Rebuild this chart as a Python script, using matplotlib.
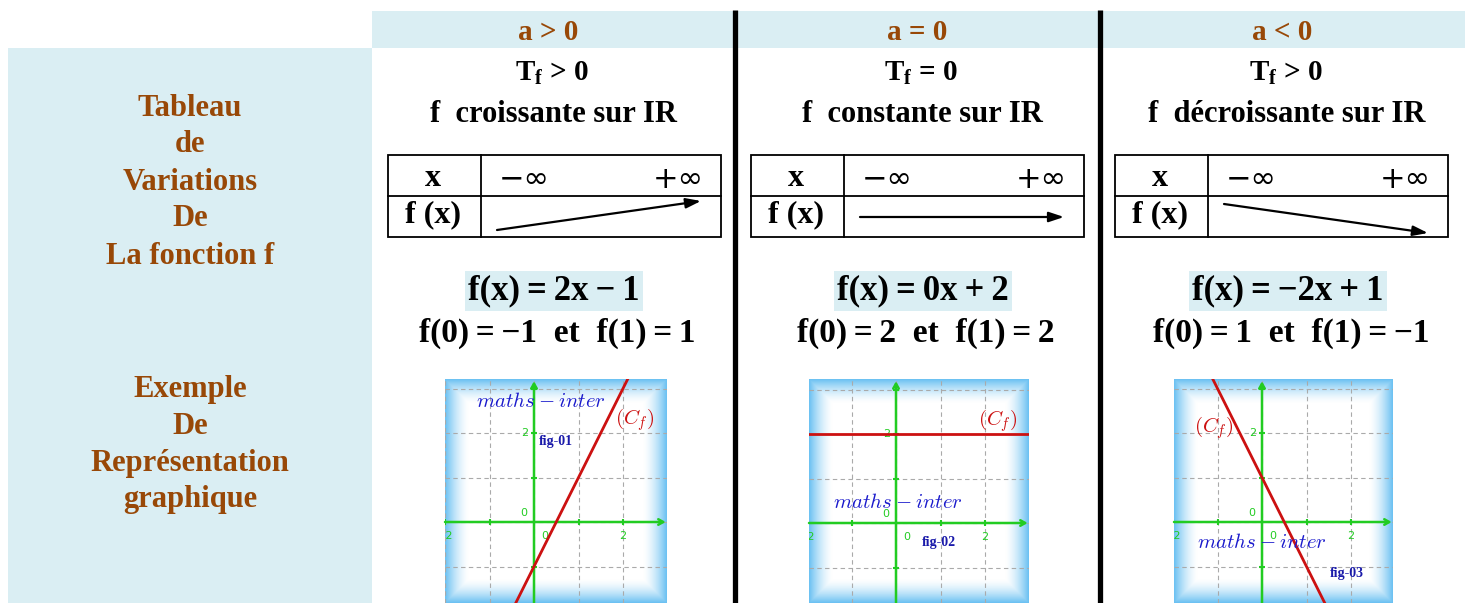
import numpy as np
import matplotlib
matplotlib.use("Agg")
import matplotlib.pyplot as plt
from matplotlib.patches import Rectangle

plt.rcParams['mathtext.fontset'] = 'custom'
plt.rcParams['mathtext.rm'] = 'Liberation Serif:bold'
plt.rcParams['mathtext.bf'] = 'Liberation Serif:bold'
plt.rcParams['mathtext.it'] = 'Liberation Serif:bold'

# ---------------- data ----------------
cases = ["a > 0", "a = 0", "a < 0"]
tf_signs = ["> 0", "= 0", "> 0"]
senses = ["croissante", "constante", "décroissante"]
slopes = [2, 0, -2]
intercepts = [-1, 2, 1]
f0_values = [-1, 2, 1]
f1_values = [1, 2, -1]
fig_labels = ["fig-01", "fig-02", "fig-03"]
row_labels_top = ["Tableau", "de", "Variations", "De", "La fonction f"]
row_labels_bottom = ["Exemple", "De", "Représentation", "graphique"]

# ---------------- style ----------------
W, H = 1468, 603
BLUE_BG = "#DAEEF3"
BROWN = "#984807"
SERIF = "Liberation Serif"
GREEN = "#22cc22"
RED = "#cc1111"
TXTBLUE = "#1a1acc"
TS = "\u2009"  # thin space

fig = plt.figure(figsize=(W / 100, H / 100), dpi=100)
ax = fig.add_axes([0, 0, 1, 1])
ax.set_xlim(0, W)
ax.set_ylim(H, 0)
ax.axis("off")

def num(v):
    return str(v).replace("-", "−")

# backgrounds
ax.add_patch(Rectangle((372, 11), 1465 - 372, 37, facecolor=BLUE_BG, edgecolor="none"))
ax.add_patch(Rectangle((8, 48), 364, H - 48, facecolor=BLUE_BG, edgecolor="none"))

# separators
for xs in (735, 1100):
    ax.plot([xs, xs], [10, H], color="black", lw=3.8, solid_capstyle="butt")

# left labels
for i, t in enumerate(row_labels_top):
    ax.text(190, 108 + i * 37, t, ha="center", va="center", fontsize=22,
            family=SERIF, weight="bold", color=BROWN)
for i, t in enumerate(row_labels_bottom):
    ax.text(190, 389 + i * 37, t, ha="center", va="center", fontsize=22,
            family=SERIF, weight="bold", color=BROWN)

header_x = [548, 917, 1282]
table_left = [388, 751, 1115]
graph_px = [(445, 667, 534, 522), (809, 1029, 896, 523), (1174, 1393, 1262, 522)]
unit = 44.5
label_pos = [
    dict(maths=(0.15, 2.72), cf=(2.27, 2.29), fig=(0.5, 1.8)),
    dict(maths=(0.04, 0.47), cf=(2.29, 2.31), fig=(0.96, -0.44)),
    dict(maths=(0.0, -0.45), cf=(-1.08, 2.13), fig=(1.91, -1.15)),
]

for i in range(3):
    cx = header_x[i]
    ax.text(cx, 32, cases[i], ha="center", va="center", fontsize=21,
            family=SERIF, weight="bold", color=BROWN)
    ax.text(cx + 4, 73, r"$\mathbf{T}_{\mathbf{f}}$ " + tf_signs[i], ha="center", va="center",
            fontsize=21, family=SERIF, weight="bold", color="black")
    ax.text(cx + 5, 114, "f  " + senses[i] + " sur IR", ha="center", va="center",
            fontsize=22, family=SERIF, weight="bold", color="black")

    # variation table
    L = table_left[i]
    ax.add_patch(Rectangle((L, 155), 333, 82, facecolor="none", edgecolor="black", lw=1.3))
    ax.plot([L + 93, L + 93], [155, 237], color="black", lw=1.3)
    ax.plot([L, L + 333], [196, 196], color="black", lw=1.3)
    ax.text(L + 45, 179, "x", ha="center", va="center", fontsize=23, family=SERIF,
            weight="bold")
    ax.text(L + 45, 215, "f (x)", ha="center", va="center", fontsize=23, family=SERIF,
            weight="bold")
    ax.text(L + 136, 179, "−∞", ha="center", va="center", fontsize=22, family="DejaVu Sans")
    ax.text(L + 290, 179, "+∞", ha="center", va="center", fontsize=22, family="DejaVu Sans")
    s = np.sign(slopes[i])
    y_start = 217 + 13 * s
    y_end = 217 - 16 * s
    ax.annotate("", xy=(L + 313, y_end), xytext=(L + 109, y_start),
                arrowprops=dict(arrowstyle="-|>,head_length=0.9,head_width=0.3",
                                color="black", lw=1.6, shrinkA=0, shrinkB=0))

    # formula
    b = intercepts[i]
    sign_b = "+" if b >= 0 else "−"
    formula = f"f(x){TS}={TS}{num(slopes[i])}x{TS}{sign_b}{TS}{abs(b)}"
    ax.text(cx + 6, 291, formula, ha="center", va="center", fontsize=25, family=SERIF,
            weight="bold", bbox=dict(facecolor=BLUE_BG, edgecolor="none", pad=2.5))
    ax.text(cx + 9, 333,
            f"f(0){TS}={TS}{num(f0_values[i])}  et  f(1){TS}={TS}{num(f1_values[i])}",
            ha="center", va="center", fontsize=24, family=SERIF, weight="bold")

    # graph
    left, right, ox, oy = graph_px[i]
    top, bottom = 379, H
    xlim = ((left - ox) / unit, (right - ox) / unit)
    ylim = ((oy - bottom) / unit, (oy - top) / unit)
    gax = fig.add_axes([left / W, 1 - bottom / H, (right - left) / W, (bottom - top) / H])
    gax.set_xlim(*xlim)
    gax.set_ylim(*ylim)
    gax.axis("off")
    # glow frame
    n = 300
    uu = np.linspace(0, 1, n)
    U, V = np.meshgrid(uu, uu)
    d = np.minimum(np.minimum(U, 1 - U), np.minimum(V, 1 - V)) * (right - left)
    alpha = np.clip(1 - d / 24, 0, 1) ** 1.6
    img = np.zeros((n, n, 4))
    img[..., 0] = 0.42
    img[..., 1] = 0.76
    img[..., 2] = 0.95
    img[..., 3] = alpha
    gax.add_patch(Rectangle((xlim[0], ylim[0]), xlim[1] - xlim[0], ylim[1] - ylim[0],
                            facecolor="white", edgecolor="none", zorder=0))
    gax.imshow(img, extent=(xlim[0], xlim[1], ylim[0], ylim[1]), aspect="auto", zorder=0.5)
    # grid
    for gx in range(int(np.ceil(xlim[0])), int(np.floor(xlim[1])) + 1):
        gax.axvline(gx, color="#aaaaaa", lw=0.8, ls=(0, (4, 3)), zorder=1)
    for gy in range(int(np.ceil(ylim[0])), int(np.floor(ylim[1])) + 1):
        gax.axhline(gy, color="#aaaaaa", lw=0.8, ls=(0, (4, 3)), zorder=1)
    # axes
    gax.annotate("", xy=(xlim[1] - 0.03, 0), xytext=(xlim[0], 0),
                 arrowprops=dict(arrowstyle="->,head_length=0.35,head_width=0.2",
                                 color=GREEN, lw=1.8, shrinkA=0, shrinkB=0), zorder=2)
    gax.annotate("", xy=(0, ylim[1] - 0.05), xytext=(0, ylim[0]),
                 arrowprops=dict(arrowstyle="->,head_length=0.35,head_width=0.2",
                                 color=GREEN, lw=1.8, shrinkA=0, shrinkB=0), zorder=2)
    for tx in (-2, -1, 1, 2):
        gax.plot([tx], [0], marker="|", color=GREEN, ms=4, mew=1.5, zorder=2)
    for ty in (1, 2, 3, -1):
        gax.plot([0], [ty], marker="_", color=GREEN, ms=4, mew=1.5, zorder=2)
    gax.text(-0.15, 0.08, "0", color=GREEN, fontsize=8, ha="right", va="bottom", zorder=3)
    gax.text(0.25, -0.2, "0", color=GREEN, fontsize=8, ha="center", va="top", zorder=3)
    gax.text(2, -0.2, "2", color=GREEN, fontsize=8, ha="center", va="top", zorder=3)
    gax.text(-2, -0.2, "−2", color=GREEN, fontsize=8, ha="center", va="top", zorder=3,
             clip_on=True)
    gax.text(-0.12, 2, "2", color=GREEN, fontsize=8, ha="right", va="center", zorder=3)
    # curve
    xs = np.array(xlim)
    gax.plot(xs, slopes[i] * xs + intercepts[i], color=RED, lw=2, zorder=4)
    lp = label_pos[i]
    gax.text(*lp["maths"], r"$maths - inter$", color=TXTBLUE, fontsize=15,
             ha="center", va="center", math_fontfamily="cm", zorder=5)
    gax.text(*lp["cf"], r"$(C_f)$", color=RED, fontsize=15,
             ha="center", va="center", math_fontfamily="cm", zorder=5)
    gax.text(*lp["fig"], fig_labels[i], color="#1a1aaa", fontsize=10, family=SERIF,
             weight="bold", ha="center", va="center", zorder=5)

fig.savefig("out.png", dpi=100)
